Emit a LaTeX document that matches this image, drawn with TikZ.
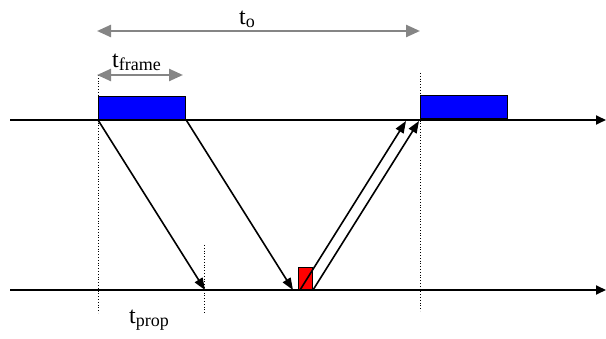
\documentclass[tikz,border=0pt]{standalone}
\usepackage{fontspec}
\setmainfont{Liberation Serif}
\usepackage{xcolor}
\usetikzlibrary{arrows.meta,positioning,calc}
\definecolor{frameblue}{HTML}{0000FF}
\definecolor{ackred}{HTML}{FF0000}
\definecolor{spangray}{HTML}{858585}

\newcommand{\tsub}[1]{t\raisebox{-3pt}{\fontsize{18}{18}\selectfont #1}}

\tikzset{
  timeline/.style={line width=1.8pt, -{Triangle[length=10pt,width=9pt]}},
  msg/.style={line width=1.6pt, -{Triangle[length=12pt,width=9pt]}},
  span/.style={draw=spangray, line width=2.4pt, {Triangle[length=14pt,width=12pt]}-{Triangle[length=14pt,width=12pt]}},
  tickline/.style={dotted, line width=0.8pt},
  framebox/.style={rectangle, draw=black, line width=1.2pt, fill=frameblue, inner sep=0pt,
                   minimum width=87pt, minimum height=23pt, anchor=south west},
  lbl/.style={font=\fontsize{24}{26}\selectfont, inner sep=0pt, anchor=base west}
}

\begin{document}
\begin{tikzpicture}[x=1pt,y=-1pt]
  \useasboundingbox (0,0) rectangle (606,339);

  % the two stations
  \coordinate (topL) at (10,120);
  \coordinate (topR) at (606,120);
  \coordinate (botL) at (10,290);
  \coordinate (botR) at (606,290);
  \draw[timeline] (topL) -- (topR);
  \draw[timeline] (botL) -- (botR);

  % frames
  \node[framebox] (frame1) at (98,120) {};
  \node[framebox] (frame2) at (420,119) {};
  \node[rectangle, draw=black, line width=1.2pt, fill=ackred, inner sep=0pt,
        minimum width=14pt, minimum height=22pt, anchor=south west] (ack) at (298,290) {};

  % dotted markers
  \coordinate (m1top) at (98,75);
  \coordinate (m1bot) at (98,313);
  \coordinate (m2top) at (420,73);
  \coordinate (m2bot) at (420,311);
  \coordinate (m3top) at (204,245);
  \coordinate (m3bot) at (204,313);
  \draw[tickline] (m1top) -- (m1bot);
  \draw[tickline] (m2top) -- (m2bot);
  \draw[tickline] (m3top) -- (m3bot);

  % frame going down, ack coming back
  \coordinate (rx1) at (205,290);
  \coordinate (rx2) at (293,290);
  \draw[msg] (frame1.south west) -- (rx1);
  \draw[msg] (frame1.south east) -- (rx2);
  \coordinate (ackA) at (300,290);
  \coordinate (ackB) at (313,290);
  \coordinate (tx1) at (406,121);
  \coordinate (tx2) at (419,121);
  \draw[msg] (ackA) -- (tx1);
  \draw[msg] (ackB) -- (tx2);

  % spans
  \coordinate (oL) at (97,31);
  \coordinate (oR) at (420,31);
  \draw[span] (oL) -- (oR);
  \node[lbl] (tolbl) at (239,25) {\tsub{o}};
  \coordinate (fL) at (97,75);
  \coordinate (fR) at (183,75);
  \draw[span] (fL) -- (fR);
  \node[lbl] (tframelbl) at (112,68) {\tsub{frame}};
  \node[lbl] (tproplbl) at (129,324) {\tsub{prop}};
\end{tikzpicture}
\end{document}
